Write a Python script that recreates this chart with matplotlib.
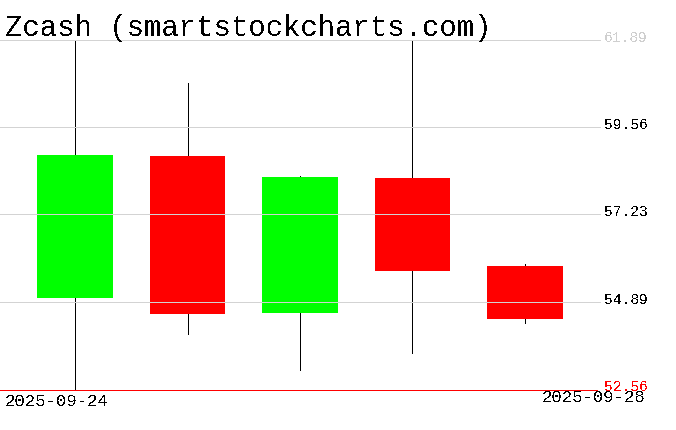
import matplotlib
matplotlib.use("Agg")
import matplotlib.pyplot as plt
from matplotlib.transforms import blended_transform_factory, offset_copy

# ---- data ----
dates = ["2025-09-24", "2025-09-25", "2025-09-26", "2025-09-27", "2025-09-28"]
opens = [54.99, 58.78, 54.59, 58.19, 55.85]
closes = [58.80, 54.57, 58.22, 55.72, 54.43]
highs = [61.89, 60.74, 58.25, 61.84, 55.90]
lows = [52.56, 54.04, 53.08, 53.53, 54.34]
tick_values = [52.56, 54.89, 57.23, 59.56, 61.89]
tick_labels = ["52.56", "54.89", "57.23", "59.56", "61.89"]
title = "Zcash (smartstockcharts.com)"

W, H = 676, 431
fig = plt.figure(figsize=(W / 100, H / 100), dpi=100)
ax = fig.add_axes([0, (H - 390.5) / H, 600 / W, 350 / H])
ax.axis("off")
ax.set_xlim(-0.6667, len(dates) - 1 + 0.6667)
ax.set_ylim(min(tick_values), max(tick_values))

lw1 = 0.72  # 1 pixel at dpi 100
xs = list(range(len(dates)))
ax.vlines(xs, lows, highs, colors="black", linewidth=lw1, zorder=2,
          clip_on=False, antialiased=False)
for x, o, c in zip(xs, opens, closes):
    col = "#00ff00" if c >= o else "#ff0000"
    ax.bar(x, abs(c - o), bottom=min(o, c), width=0.667, color=col,
           linewidth=0, zorder=3, antialiased=False)

for v in tick_values[1:]:
    ax.axhline(v, color="#d3d3d3", linewidth=lw1, zorder=4, clip_on=False,
               antialiased=False)
ax.axhline(tick_values[0], xmax=597 / 600, color="#ff0000", linewidth=lw1,
           zorder=6, clip_on=False, antialiased=False)

tr = blended_transform_factory(ax.transAxes, ax.transData)
tr_lab = offset_copy(tr, fig=fig, x=0, y=-1, units="dots")
label_cols = ["#ff0000", "black", "black", "black", "#cfcfcf"]
mono = ["Liberation Mono", "DejaVu Sans Mono"]
ytexts = []
for v, lab, col in zip(tick_values, tick_labels, label_cols):
    t = ax.text(604 / 600, v, lab, transform=tr_lab, ha="left", va="baseline",
                color=col, family=mono, fontsize=10.5, clip_on=False,
                antialiased=False, zorder=7)
    ytexts.append(t)

d1 = fig.text(5 / W, (H - 406.5) / H, dates[0], family=mono, fontsize=11,
              ha="left", va="baseline", color="black", antialiased=False)
d2 = fig.text(542 / W, (H - 402) / H, dates[-1], family=mono, fontsize=11,
              ha="left", va="baseline", color="black", antialiased=False)
tt = fig.text(5 / W, (H - 36) / H, title, family=mono,
              fontsize=24, ha="left", va="baseline", color="black",
              antialiased=False)

fig.canvas.draw()
r = fig.canvas.get_renderer()
def fit(t, w):
    bb = t.get_window_extent(r)
    t.set_fontsize(t.get_fontsize() * w / bb.width)
fit(tt, 485)
fit(d1, 104)
fit(d2, 103)
for t in ytexts:
    fit(t, 44)

fig.savefig("out.png", dpi=100)
